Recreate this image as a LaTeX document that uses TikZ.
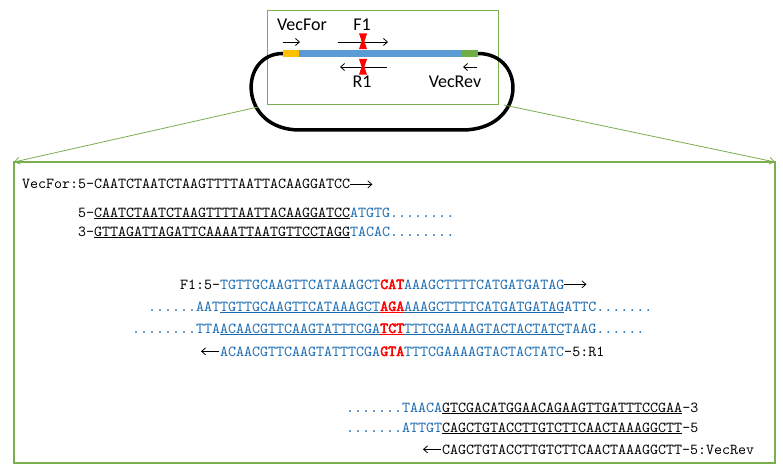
\documentclass[tikz,border=0pt]{standalone}
\usepackage{fontspec}
\setmonofont{lmmono10-regular}[Extension=.otf,BoldFont=lmmono10-regular,BoldFeatures={FakeBold=3}]
\newfontfamily\labelfont{Carlito}
\usetikzlibrary{arrows.meta,calc,positioning}
\definecolor{ink}{HTML}{000000}
\definecolor{boxgreen}{HTML}{7AAE4F}
\definecolor{seqblue}{HTML}{1A6AB0}
\definecolor{seqred}{HTML}{FF0000}
\definecolor{vecyellow}{HTML}{FFC000}
\definecolor{vecblue}{HTML}{5B9BD5}
\definecolor{vecgreen}{HTML}{70AD47}
\newcommand{\seqfont}{\ttfamily\fontsize{15.24}{18}\selectfont}
\newcommand{\seqb}[1]{\textcolor{seqblue}{#1}}
\newcommand{\seqr}[1]{\textcolor{seqred}{\textbf{#1}}}
\newcommand{\sequ}[1]{\underline{#1}}
\newcommand{\seqru}[1]{\textcolor{seqred}{\underline{\textbf{#1}}}}

\begin{document}
\begin{tikzpicture}[x=1pt,y=-1pt,>={Straight Barb[length=4pt,width=7pt]},
  seq/.style={anchor=base west,inner sep=0pt,font=\seqfont},
  primerlab/.style={font=\labelfont\fontsize{18}{20}\selectfont,inner sep=0pt},
  primerarrow/.style={->,draw=ink,line width=0.8pt},
  zoomline/.style={draw=boxgreen,line width=0.8pt,-{Straight Barb[length=5pt,width=7pt]}},
  barpart/.style={minimum width=#1,minimum height=7pt,inner sep=0pt,outer sep=0pt,draw=none}]
  \useasboundingbox (0,0) rectangle (783,470);

  % vector map
  \node[draw=boxgreen,line width=0.8pt,minimum width=231pt,minimum height=94pt,inner sep=0pt,outer sep=0pt] (inset) at (382.5,57) {};
  \node[barpart=16pt,fill=vecyellow,anchor=west] (forsite) at (283,53.5) {};
  \node[barpart=163pt,fill=vecblue,right=0pt of forsite] (insert) {};
  \node[barpart=16pt,fill=vecgreen,right=0pt of insert] (revsite) {};
  \draw[ink,line width=3.5pt] (forsite.west) .. controls (238,53.5) and (238,130) .. (300,130)
    -- (462,130) .. controls (527,130) and (527,53.5) .. (revsite.east);
  \node[barpart=16pt,fill=vecyellow,anchor=west] at (283,53.5) {};
  \node[barpart=16pt,fill=vecgreen,anchor=east] at (revsite.east) {};

  \node[primerlab] (vecforlab) at (302,25) {VecFor};
  \node[primerlab] (f1lab) at (362,25) {F1};
  \node[primerlab] (r1lab) at (362,82) {R1};
  \node[primerlab] (vecrevlab) at (455,82) {VecRev};
  \coordinate (vf0) at (283,42); \coordinate (vf1) at (300,42);
  \coordinate (f10) at (338,42); \coordinate (f11) at (388,42);
  \coordinate (r10) at (387,67); \coordinate (r11) at (340,67);
  \coordinate (vr0) at (477,67); \coordinate (vr1) at (463,67);
  \draw[primerarrow] (vf0) -- (vf1);
  \draw[primerarrow] (f10) -- (f11);
  \draw[primerarrow] (r10) -- (r11);
  \draw[primerarrow] (vr0) -- (vr1);
  \foreach \ty in {33.5,59} {
    \fill[seqred] (359,\ty) -- ++(8,0) -- ++(-2.6,7.8) -- ++(2.6,7.8) -- ++(-8,0) -- ++(2.6,-7.8) -- cycle;
  }

  % zoomed sequences
  \node[draw=boxgreen,line width=1.2pt,minimum width=761pt,minimum height=301pt,inner sep=0pt,outer sep=0pt] (detail) at (394.5,312.5) {};
  \coordinate (loopleft) at (258,107);
  \coordinate (loopright) at (504,105);
  \draw[zoomline] (loopleft) -- (detail.north west);
  \draw[zoomline] (loopright) -- (detail.north east);

  \node[seq] (vecforseq) at (22,189) {VecFor:5-CAATCTAATCTAAGTTTTAATTACAAGGATCC};
  \coordinate[right=22pt of vecforseq.east] (vecforend);
  \draw[primerarrow] (vecforseq.east) -- (vecforend);
  \node[seq] (topstrand) at (78,217) {5-\sequ{CAATCTAATCTAAGTTTTAATTACAAGGATCC}\seqb{ATGTG........}};
  \node[seq] (botstrand) at (78,236) {3-\sequ{GTTAGATTAGATTCAAAATTAATGTTCCTAGG}\seqb{TACAC........}};

  \node[seq] (f1seq) at (180,289) {F1:5-\seqb{TGTTGCAAGTTCATAAAGCT\seqr{CAT}AAAGCTTTTCATGATGATAG}};
  \coordinate[right=22pt of f1seq.east] (f1end);
  \draw[primerarrow] (f1seq.east) -- (f1end);
  \node[seq] (midtop) at (148,311) {\seqb{......AAT\sequ{TGTTGCAAGTTCATAAAGCT}\seqru{AGA}\sequ{AAAGCTTTTCATGATGATAG}ATTC.......}};
  \node[seq] (midbot) at (132,333) {\seqb{........TTA\sequ{ACAACGTTCAAGTATTTCGA}\seqru{TCT}\sequ{TTTCGAAAAGTACTACTATC}TAAG......}};
  \node[seq] (r1seq) at (220,356) {\seqb{ACAACGTTCAAGTATTTCGA\seqr{GTA}TTTCGAAAAGTACTACTATC}-5:R1};
  \coordinate[left=1pt of r1seq.west] (r1start);
  \coordinate[left=18pt of r1start] (r1tip);
  \draw[primerarrow] (r1start) -- (r1tip);

  \node[seq] (revtop) at (346,412) {\seqb{.......TAACA}\sequ{GTCGACATGGAACAGAAGTTGATTTCCGAA}-3};
  \node[seq] (revbot) at (346,432) {\seqb{.......ATTGT}\sequ{CAGCTGTACCTTGTCTTCAACTAAAGGCTT}-5};
  \node[seq] (vecrevseq) at (442,454) {CAGCTGTACCTTGTCTTCAACTAAAGGCTT-5:VecRev};
  \coordinate[left=1pt of vecrevseq.west] (vecrevstart);
  \coordinate[left=18pt of vecrevstart] (vecrevtip);
  \draw[primerarrow] (vecrevstart) -- (vecrevtip);
\end{tikzpicture}
\end{document}
